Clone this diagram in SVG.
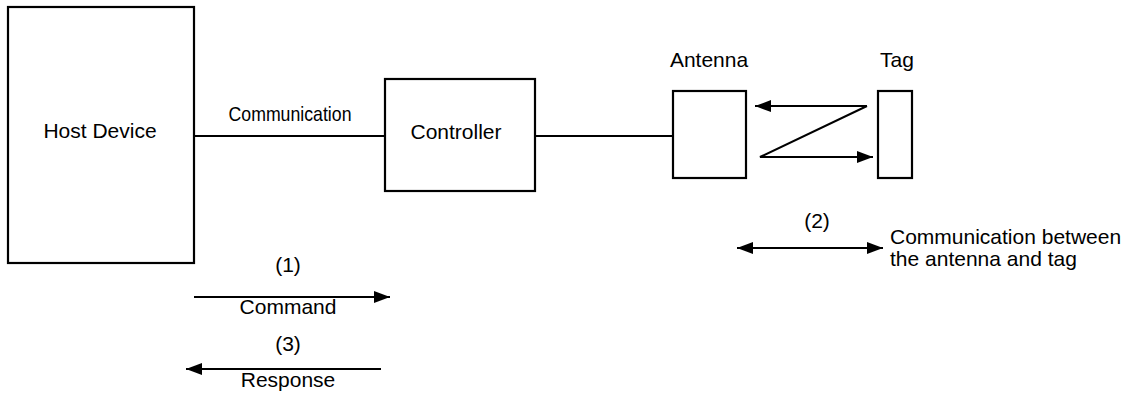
<svg xmlns="http://www.w3.org/2000/svg" width="1127" height="396" viewBox="0 0 1127 396">
<style>
.box{fill:#fff;stroke:#000;stroke-width:2.2}
.ln{fill:none;stroke:#000;stroke-width:2}
text{font-family:"Liberation Sans",Arial,sans-serif;font-size:21px;fill:#000}
.c{text-anchor:middle}
</style>
<defs>
<marker id="ah" viewBox="0 0 16 12" refX="16" refY="6" markerWidth="16" markerHeight="12" markerUnits="userSpaceOnUse" orient="auto-start-reverse">
<path d="M0,0 L16,6 L0,12 Z" fill="#000"/>
</marker>
</defs>
<rect width="1127" height="396" fill="#fff"/>
<g id="connectors">
<line class="ln" x1="194" y1="136" x2="385" y2="136"/>
<line class="ln" x1="535" y1="136" x2="673" y2="136"/>
<polyline class="ln" points="867,106 755,106" marker-end="url(#ah)"/>
<polyline class="ln" points="867,106 760,157 873,157" marker-end="url(#ah)"/>
<line class="ln" x1="737" y1="248" x2="883" y2="248" marker-start="url(#ah)" marker-end="url(#ah)"/>
<line class="ln" x1="194" y1="297" x2="390" y2="297" marker-end="url(#ah)"/>
<line class="ln" x1="381" y1="369" x2="186" y2="369" marker-end="url(#ah)"/>
<text class="c" x="290" y="121" textLength="123" lengthAdjust="spacingAndGlyphs">Communication</text>
<text class="c" x="288" y="272">(1)</text>
<text class="c" x="288" y="314">Command</text>
<text class="c" x="288" y="351">(3)</text>
<text class="c" x="288" y="387">Response</text>
<text class="c" x="817" y="228">(2)</text>
<text x="890" y="244">Communication between</text>
<text x="890" y="266">the antenna and tag</text>
</g>
<g id="host">
<rect class="box" x="8" y="7" width="186" height="256"/>
<text class="c" x="100" y="138">Host Device</text>
</g>
<g id="controller">
<rect class="box" x="385" y="79" width="150" height="112"/>
<text class="c" x="456" y="139">Controller</text>
</g>
<g id="antenna">
<rect class="box" x="673" y="91" width="73" height="87"/>
<text class="c" x="709" y="67">Antenna</text>
</g>
<g id="tag">
<rect class="box" x="878" y="91" width="34" height="87"/>
<text class="c" x="897" y="67">Tag</text>
</g>
</svg>
